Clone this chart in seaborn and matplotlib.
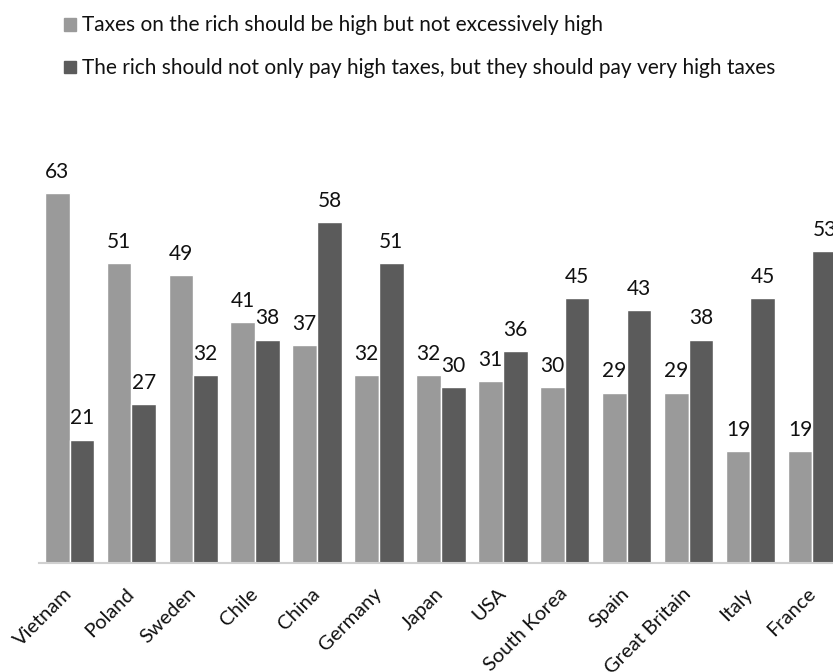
import matplotlib
matplotlib.use("Agg")
import matplotlib.pyplot as plt
import seaborn as sns
import pandas as pd

# data
countries = ["Vietnam", "Poland", "Sweden", "Chile", "China", "Germany", "Japan",
             "USA", "South Korea", "Spain", "Great Britain", "Italy", "France"]
high_not_excessive = [63, 51, 49, 41, 37, 32, 32, 31, 30, 29, 29, 19, 19]
very_high = [21, 27, 32, 38, 58, 51, 30, 36, 45, 43, 38, 45, 53]
series_names = ["Taxes on the rich should be high but not excessively high",
                "The rich should not only pay high taxes, but they should pay very high taxes"]

colors = ["#9a9a9a", "#5b5b5b"]

df = pd.DataFrame({
    "country": countries * 2,
    "value": high_not_excessive + very_high,
    "series": [series_names[0]] * len(countries) + [series_names[1]] * len(countries),
})

sns.set_style("white")
plt.rcParams["font.family"] = ["Lato", "DejaVu Sans"]
plt.rcParams["text.color"] = "#111111"

fig = plt.figure(figsize=(8.33, 6.72), dpi=100)
ax = fig.add_axes([0.0463, 0.1622, 0.966, 0.6124])

sns.barplot(data=df, x="country", y="value", hue="series", hue_order=series_names,
            palette=colors, width=0.8, ax=ax, saturation=1, legend=False)

for cont in ax.containers:
    ax.bar_label(cont, padding=8, fontsize=15, color="#111111")

ax.set_xlim(-0.5, 12.5)
ax.set_ylim(0, 70)
ax.set_xlabel("")
ax.set_ylabel("")
ax.set_yticks([])
for s in ["top", "right", "left"]:
    ax.spines[s].set_visible(False)
ax.spines["bottom"].set_color("#d0d0d0")
ax.spines["bottom"].set_linewidth(1.5)

ax.tick_params(axis="x", length=0, pad=20, labelsize=14.5, labelcolor="#111111")
plt.setp(ax.get_xticklabels(), rotation=45, ha="right", va="center", rotation_mode="anchor")

# legend with square markers, top left
handles = [plt.Rectangle((0, 0), 1, 1, color=c) for c in colors]
fig.legend(handles, series_names, loc="upper left", bbox_to_anchor=(64 / 833, 0.977),
           bbox_transform=fig.transFigure, frameon=False, fontsize=15,
           handlelength=0.58, handleheight=0.58, handletextpad=0.3,
           labelspacing=1.1, borderpad=0, borderaxespad=0)

fig.savefig("out.png", dpi=100)
